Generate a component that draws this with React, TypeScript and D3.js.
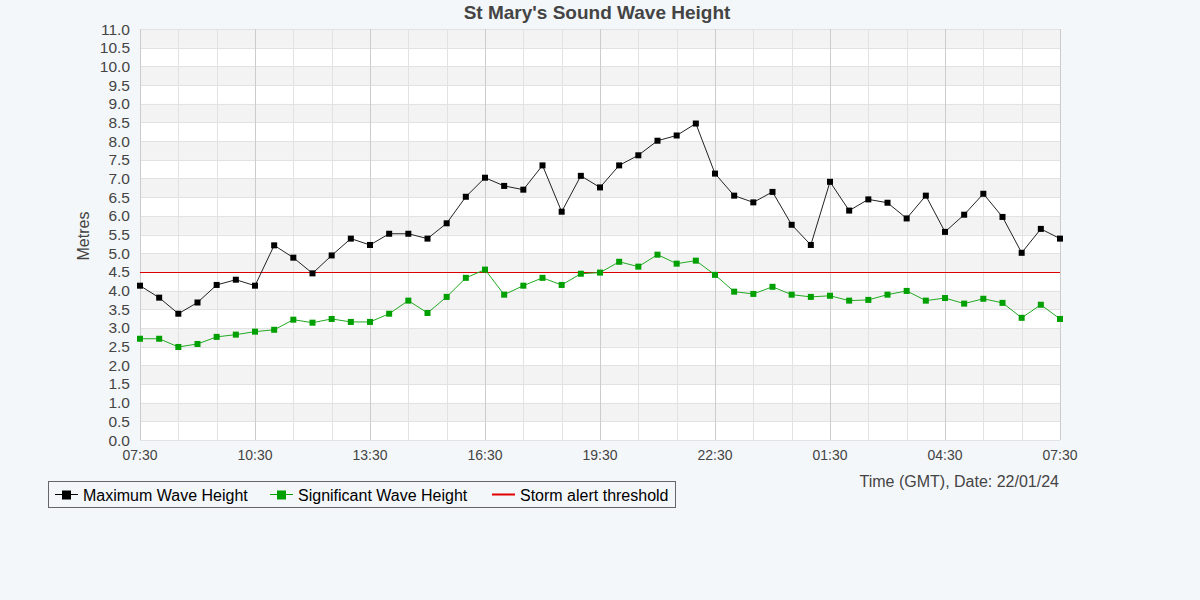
import { useEffect, useRef } from "react";
import * as d3 from "d3";

// half-hourly readings, 07:30 to 07:30 next day
const maxWave = [
  4.13, 3.81, 3.38, 3.68, 4.15, 4.29, 4.13, 5.21, 4.88, 4.46, 4.94, 5.39, 5.22,
  5.52, 5.52, 5.39, 5.8, 6.51, 7.02, 6.8, 6.7, 7.35, 6.11, 7.07, 6.76, 7.35,
  7.62, 8.01, 8.15, 8.47, 7.13, 6.54, 6.36, 6.64, 5.76, 5.22, 6.91, 6.14, 6.44,
  6.35, 5.93, 6.54, 5.57, 6.03, 6.59, 5.97, 5.01, 5.65, 5.39,
];
const sigWave = [
  2.71, 2.71, 2.49, 2.57, 2.76, 2.82, 2.9, 2.95, 3.22, 3.14, 3.24, 3.16, 3.16,
  3.38, 3.73, 3.4, 3.83, 4.34, 4.56, 3.89, 4.13, 4.34, 4.15, 4.45, 4.48, 4.77,
  4.64, 4.96, 4.72, 4.8, 4.42, 3.97, 3.91, 4.1, 3.89, 3.83, 3.86, 3.73, 3.75,
  3.89, 3.99, 3.73, 3.8, 3.65, 3.78, 3.67, 3.27, 3.62, 3.24,
];
const stormThreshold = 4.5;
const xTickLabels = ["07:30", "10:30", "13:30", "16:30", "19:30", "22:30", "01:30", "04:30", "07:30"];
const legendItems = ["Maximum Wave Height", "Significant Wave Height", "Storm alert threshold"];

const W = 1200;
const H = 600;
const FONT = "'Liberation Sans', Arial, sans-serif";

const App = () => {
  const ref = useRef<SVGSVGElement>(null);

  useEffect(() => {
    const svg = d3.select(ref.current);
    svg.selectAll("*").remove();

    const left = 140, right = 1060, top = 29, bottom = 440;
    const n = maxWave.length;

    const x = d3.scaleLinear().domain([0, n - 1]).range([left, right]);
    const y = d3.scaleLinear().domain([0, 11]).range([bottom, top]);

    svg.append("rect").attr("width", W).attr("height", H).attr("fill", "#f4f7fa");

    // alternating bands
    const bands = d3.range(0, 11, 0.5);
    svg
      .append("g")
      .selectAll("rect")
      .data(bands)
      .enter()
      .append("rect")
      .attr("x", left)
      .attr("width", right - left)
      .attr("y", (d) => y(d + 0.5))
      .attr("height", (d) => y(d) - y(d + 0.5))
      .attr("fill", (d, i) => (i % 2 === 1 ? "#f3f3f3" : "#ffffff"));

    // horizontal grid
    svg
      .append("g")
      .selectAll("line")
      .data(d3.range(0, 11.01, 0.5))
      .enter()
      .append("line")
      .attr("x1", left)
      .attr("x2", right)
      .attr("y1", (d) => Math.round(y(d)) + 0.5)
      .attr("y2", (d) => Math.round(y(d)) + 0.5)
      .attr("stroke", "#e2e2e2");

    // vertical grid, hourly, darker every 3 hours
    svg
      .append("g")
      .selectAll("line")
      .data(d3.range(0, n, 2))
      .enter()
      .append("line")
      .attr("x1", (d) => Math.round(x(d)) + 0.5)
      .attr("x2", (d) => Math.round(x(d)) + 0.5)
      .attr("y1", top)
      .attr("y2", bottom)
      .attr("stroke", (d) => (d % 6 === 0 ? "#cccccc" : "#e2e2e2"));

    // y axis labels
    svg
      .append("g")
      .selectAll("text")
      .data(d3.range(0, 11.01, 0.5))
      .enter()
      .append("text")
      .attr("x", 130)
      .attr("y", (d) => y(d) + 5.5)
      .attr("text-anchor", "end")
      .attr("font-family", FONT)
      .attr("font-size", 15.5)
      .attr("fill", "#444")
      .text((d) => d3.format(".1f")(d));

    // x axis labels
    svg
      .append("g")
      .selectAll("text")
      .data(xTickLabels)
      .enter()
      .append("text")
      .attr("x", (d, i) => x(i * 6))
      .attr("y", 460)
      .attr("text-anchor", "middle")
      .attr("font-family", FONT)
      .attr("font-size", 14)
      .attr("fill", "#444")
      .text((d) => d);

    svg
      .append("text")
      .attr("x", 1059)
      .attr("y", 487)
      .attr("text-anchor", "end")
      .attr("font-family", FONT)
      .attr("font-size", 16)
      .attr("fill", "#444")
      .text("Time (GMT), Date: 22/01/24");

    svg
      .append("text")
      .attr("transform", "translate(89,236) rotate(-90)")
      .attr("text-anchor", "middle")
      .attr("font-family", FONT)
      .attr("font-size", 16)
      .attr("fill", "#444")
      .text("Metres");

    svg
      .append("text")
      .attr("x", 597)
      .attr("y", 19)
      .attr("text-anchor", "middle")
      .attr("font-family", FONT)
      .attr("font-size", 19)
      .attr("font-weight", "bold")
      .attr("fill", "#444")
      .text("St Mary's Sound Wave Height");

    // storm threshold
    svg
      .append("line")
      .attr("x1", left)
      .attr("x2", right)
      .attr("y1", Math.round(y(stormThreshold)) + 0.5)
      .attr("y2", Math.round(y(stormThreshold)) + 0.5)
      .attr("stroke", "#dd0000")
      .attr("stroke-width", 1);

    const line = d3
      .line<number>()
      .x((d, i) => x(i))
      .y((d) => y(d));

    const drawSeries = (data: number[], lineColor: string, markColor: string) => {
      svg
        .append("path")
        .datum(data)
        .attr("fill", "none")
        .attr("stroke", lineColor)
        .attr("stroke-width", 1)
        .attr("d", line);
      svg
        .append("g")
        .selectAll("rect")
        .data(data)
        .enter()
        .append("rect")
        .attr("x", (d, i) => x(i) - 3)
        .attr("y", (d) => y(d) - 3)
        .attr("width", 6)
        .attr("height", 6)
        .attr("fill", markColor);
    };

    drawSeries(sigWave, "#22aa22", "#00a000");
    drawSeries(maxWave, "#222", "#000");

    // legend
    const lg = svg.append("g");
    lg.append("rect")
      .attr("x", 48.5)
      .attr("y", 481.5)
      .attr("width", 627)
      .attr("height", 26)
      .attr("fill", "none")
      .attr("stroke", "#666");

    const legendX = [55, 270, 492];
    const legendColors = ["#000", "#00a000", "#e00000"];
    legendItems.forEach((label, i) => {
      const x0 = legendX[i];
      lg.append("line")
        .attr("x1", x0)
        .attr("x2", x0 + 23)
        .attr("y1", 494.5)
        .attr("y2", 494.5)
        .attr("stroke", legendColors[i])
        .attr("stroke-width", i === 2 ? 2 : 1);
      if (i < 2) {
        lg.append("rect")
          .attr("x", x0 + 7)
          .attr("y", 490.5)
          .attr("width", 9)
          .attr("height", 9)
          .attr("fill", legendColors[i]);
      }
      lg.append("text")
        .attr("x", x0 + 28)
        .attr("y", 500.5)
        .attr("font-family", FONT)
        .attr("font-size", 16)
        .attr("fill", "#000")
        .text(label);
    });
  }, []);

  return (
    <div style={{ position: "fixed", left: 0, top: 0 }}>
      <svg ref={ref} width={W} height={H} style={{ display: "block" }} />
    </div>
  );
};

export default App;
